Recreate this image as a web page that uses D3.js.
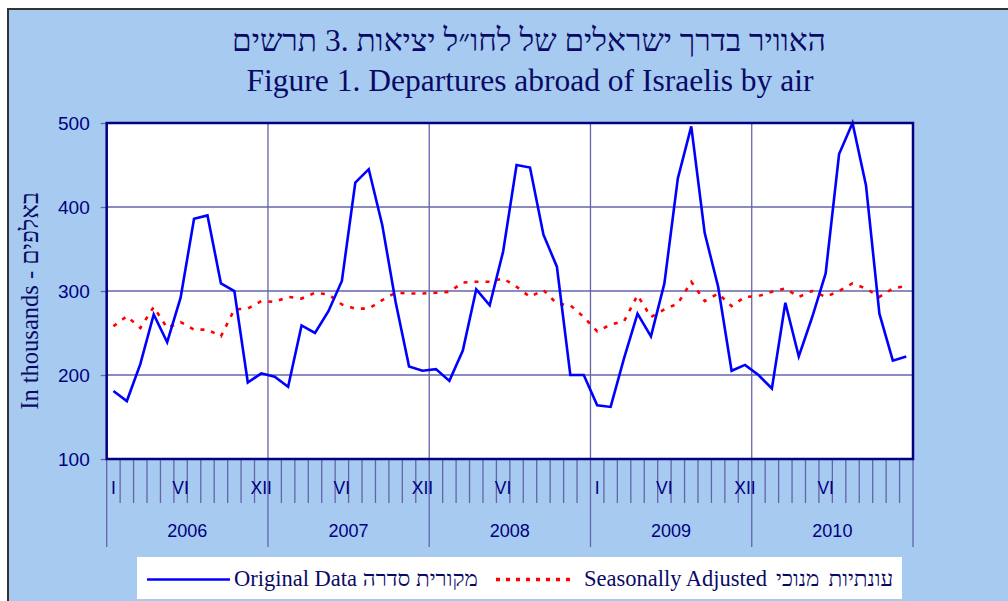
<!DOCTYPE html>
<html>
<head>
<meta charset="utf-8">
<script src="https://cdn.jsdelivr.net/npm/d3@7"></script>
<style>
  html, body { margin: 0; padding: 0; background: #ffffff; overflow: hidden; }
  svg { display: block; }
</style>
</head>
<body>
<svg id="chart" width="1008" height="601"></svg>
<script>
// ---------- DATA ----------
const years = ["2006", "2007", "2008", "2009", "2010"];
const monthLabels = [
  "I","","","","","VI","","","","","","XII",
  "","","","","","VI","","","","","","XII",
  "","","","","","VI","","","","","","",
  "I","","","","","VI","","","","","","XII",
  "","","","","","VI","","","","","",""
];
const originalData = [
  181, 169, 213, 272, 239, 292, 386, 390, 309, 300, 191, 202,
  198, 186, 259, 250, 276, 312, 429, 445, 379, 287, 210, 205,
  207, 193, 229, 302, 283, 347, 450, 447, 367, 329, 200, 200,
  164, 162, 220, 273, 246, 309, 434, 496, 369, 305, 205, 212,
  200, 184, 286, 222, 269, 321, 463, 500, 426, 273, 217, 222
];
const seasonallyAdjusted = [
  258, 270, 256, 281, 256, 263, 254, 254, 246, 278, 279, 288,
  287, 293, 291, 298, 296, 284, 279, 279, 289, 298, 297, 297,
  298, 299, 310, 311, 311, 315, 305, 293, 301, 285, 283, 269,
  252, 260, 264, 295, 269, 278, 285, 311, 288, 297, 282, 293,
  294, 299, 303, 293, 300, 293, 300, 309, 303, 293, 303, 306
];
const yTicks = [100, 200, 300, 400, 500];
const gridValues = [200, 300, 400];
const titleHe = "תרשים 3. יציאות לחו״ל של ישראלים בדרך האוויר";
const titleEn = "Figure 1. Departures abroad of Israelis by air";
const yTitle = "In thousands - באלפים";
const legendLabels = ["Original Data סדרה מקורית", "Seasonally Adjusted מנוכי עונתיות"];

// ---------- LAYOUT ----------
const svg = d3.select("#chart");
const plot = { left: 106.7, right: 913, top: 123, bottom: 459 };
const navy = "#000080";
const textNavy = "#0a0a66";
const gridColor = "#6464aa";
const serif = "'Liberation Serif', 'Times New Roman', serif";
const sans = "'Liberation Sans', Arial, sans-serif";

const x = d3.scaleLinear().domain([0, 60]).range([plot.left, plot.right]);
const y = d3.scaleLinear().domain([100, 500]).range([plot.bottom, plot.top]);

// Lays out the words of a mixed Hebrew/English string left-to-right, word by word
// (as in the original figure), each word rendered as its own text run.
function wordsLTR(parent, str, px, py, size, anchor, family, fill, wordSpace) {
  const g = parent.append("g");
  const tokens = str.split(" ");
  const isHe = t => /[\u0590-\u05FF]/.test(t);
  const chunks = [];
  tokens.forEach(t => {
    if (!isHe(t) && chunks.length && !isHe(chunks[chunks.length - 1])) {
      chunks[chunks.length - 1] += " " + t;
    } else chunks.push(t);
  });
  const measure = s => {
    const t = g.append("text").attr("font-family", family).attr("font-size", size)
      .attr("xml:space", "preserve").text(s);
    const w = t.node().getComputedTextLength();
    t.remove();
    return w;
  };
  const space = (measure("x x") - measure("xx")) * (wordSpace || 1);
  const widths = chunks.map(measure);
  const total = d3.sum(widths) + space * (chunks.length - 1);
  let cur = anchor === "middle" ? px - total / 2 : px;
  chunks.forEach((c, i) => {
    g.append("text").attr("x", cur).attr("y", py)
      .attr("font-family", family).attr("font-size", size).attr("fill", fill)
      .attr("direction", "ltr").text(c);
    cur += widths[i] + space;
  });
  return g;
}

// Frame background
svg.append("rect")
  .attr("x", 8).attr("y", 9).attr("width", 1100).attr("height", 700)
  .attr("fill", "#a6caf0").attr("stroke", "#333333").attr("stroke-width", 2);

// Titles
wordsLTR(svg, titleHe, 529, 51, 31.5, "middle", serif, textNavy);
svg.append("text").attr("x", 530).attr("y", 91)
  .attr("text-anchor", "middle").attr("font-family", serif)
  .attr("font-size", 31.5).attr("fill", textNavy).text(titleEn);

// Plot area
svg.append("rect")
  .attr("x", plot.left).attr("y", plot.top)
  .attr("width", plot.right - plot.left).attr("height", plot.bottom - plot.top)
  .attr("fill", "#ffffff");

// Horizontal gridlines
svg.append("g").selectAll("line").data(gridValues).join("line")
  .attr("x1", plot.left).attr("x2", plot.right)
  .attr("y1", d => y(d)).attr("y2", d => y(d))
  .attr("stroke", gridColor).attr("stroke-width", 1.3);

// Vertical gridlines at year boundaries
svg.append("g").selectAll("line").data([12, 24, 36, 48]).join("line")
  .attr("x1", d => x(d)).attr("x2", d => x(d))
  .attr("y1", plot.top).attr("y2", plot.bottom)
  .attr("stroke", gridColor).attr("stroke-width", 1.3);

// Y axis
const yAxis = svg.append("g")
  .attr("transform", `translate(${plot.left},0)`)
  .call(d3.axisLeft(y).tickValues(yTicks).tickSize(6).tickPadding(11).tickFormat(d3.format("d")));
yAxis.select(".domain").remove();
yAxis.selectAll(".tick line").attr("stroke", gridColor).attr("stroke-width", 1.3);
yAxis.selectAll(".tick text").attr("font-family", sans).attr("font-size", 19).attr("fill", navy);

// X axis: month boundary ticks
const xAxisG = svg.append("g");
xAxisG.selectAll("line").data(d3.range(61)).join("line")
  .attr("x1", d => x(d)).attr("x2", d => x(d))
  .attr("y1", plot.bottom)
  .attr("y2", d => (d % 12 === 0) ? 547 : 503)
  .attr("stroke", gridColor).attr("stroke-width", 1.3);

// Month labels
xAxisG.selectAll("text.month").data(monthLabels.map((t, i) => ({ t, i })).filter(d => d.t))
  .join("text").attr("class", "month")
  .attr("x", d => x(d.i + 0.5)).attr("y", 494)
  .attr("text-anchor", "middle").attr("font-family", sans).attr("font-size", 17.5)
  .attr("fill", navy).text(d => d.t);

// Year labels
xAxisG.selectAll("text.year").data(years).join("text").attr("class", "year")
  .attr("x", (d, i) => x(i * 12 + 6)).attr("y", 537)
  .attr("text-anchor", "middle").attr("font-family", sans).attr("font-size", 18)
  .attr("fill", navy).text(d => d);

// Lines
const line = d3.line().x((d, i) => x(i + 0.5)).y(d => y(d));
svg.append("path").datum(seasonallyAdjusted)
  .attr("d", line).attr("fill", "none")
  .attr("stroke", "#ff0000").attr("stroke-width", 2.6)
  .attr("stroke-dasharray", "4,7");
svg.append("path").datum(originalData)
  .attr("d", line).attr("fill", "none")
  .attr("stroke", "#0000ff").attr("stroke-width", 2.6)
  .attr("stroke-linejoin", "miter");

// Plot border
svg.append("rect")
  .attr("x", plot.left).attr("y", plot.top)
  .attr("width", plot.right - plot.left).attr("height", plot.bottom - plot.top)
  .attr("fill", "none").attr("stroke", navy).attr("stroke-width", 2.5);

// Y title
svg.append("text")
  .attr("transform", "translate(38,301) rotate(-90)")
  .attr("text-anchor", "middle").attr("font-family", serif)
  .attr("font-size", 24.5).attr("fill", textNavy).text(yTitle);

// Legend
const lg = svg.append("g");
lg.append("rect").attr("x", 137).attr("y", 557).attr("width", 765).attr("height", 42)
  .attr("fill", "#ffffff");
lg.append("line").attr("x1", 147).attr("x2", 230).attr("y1", 579.5).attr("y2", 579.5)
  .attr("stroke", "#0000ff").attr("stroke-width", 2.6);
wordsLTR(lg, legendLabels[0], 234, 586, 22.5, "start", serif, textNavy);
lg.append("line").attr("x1", 496).attr("x2", 572).attr("y1", 579.5).attr("y2", 579.5)
  .attr("stroke", "#ff0000").attr("stroke-width", 3.5).attr("stroke-dasharray", "4,6");
wordsLTR(lg, legendLabels[1], 584, 586, 22.5, "start", serif, textNavy, 1.6);
</script>
</body>
</html>
